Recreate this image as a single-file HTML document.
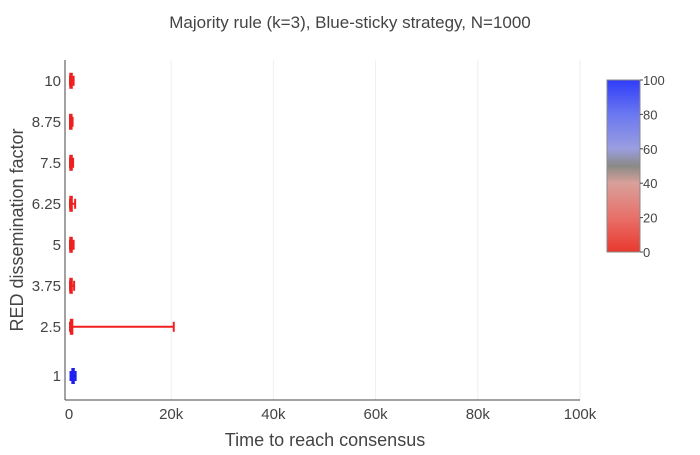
<!DOCTYPE html>
<html><head><meta charset="utf-8"><style>
body{margin:0;background:#fff;font-family:"Liberation Sans",sans-serif}
text{font-family:"Liberation Sans",sans-serif;fill:#444}
</style></head><body>
<svg width="700" height="450">
<text x="350" y="28" text-anchor="middle" font-size="17">Majority rule (k=3), Blue-sticky strategy, N=1000</text>
<g id="grid"></g><g id="marks"></g><g id="axes"></g>
<defs><linearGradient id="cb" x1="0" y1="1" x2="0" y2="0">
<stop offset="0" stop-color="#e8392e"/><stop offset="0.2" stop-color="#e8706a"/><stop offset="0.4" stop-color="#d9a09a"/><stop offset="0.5" stop-color="#8a8a86"/><stop offset="0.6" stop-color="#9a9ee0"/><stop offset="0.8" stop-color="#6b78f0"/><stop offset="1" stop-color="#2f3cf8"/></linearGradient></defs>
<rect x="607" y="80" width="33" height="172" fill="url(#cb)" stroke="#888" stroke-width="1"/>
<g id="cbt"></g>
<text x="325" y="446" text-anchor="middle" font-size="18">Time to reach consensus</text>
<text transform="translate(23,230) rotate(-90)" text-anchor="middle" font-size="18">RED dissemination factor</text>
</svg>
<script>
const cats=[1,2.5,3.75,5,6.25,7.5,8.75,10];
const centers=[800,500,400,400,400,400,350,400];
const lows=[300,200,200,200,200,200,200,200];
const highs=[1300,20500,1000,900,1200,800,700,900];
const colors=["#1f1ff0","#f01f1f","#f01f1f","#f01f1f","#f01f1f","#f01f1f","#f01f1f","#f01f1f"];
const xTicks=[0,20000,40000,60000,80000,100000];
const xLabels=["0","20k","40k","60k","80k","100k"];
const cbTicks=[0,20,40,60,80,100];
const NS="http://www.w3.org/2000/svg";
const X=v=>69+v*(580-69)/100000;
const Y=v=>376-(v-1)*32.8;
function mk(p,t,a){const e=document.createElementNS(NS,t);for(const k in a)e.setAttribute(k,a[k]);document.getElementById(p).appendChild(e);return e;}
xTicks.forEach((t,i)=>{
 if(i>0){const g=mk('grid','line',{x1:X(t),x2:X(t),y1:60,y2:400,stroke:'#eee'});
 
 }
 const l=mk('axes','text',{x:X(t),y:419,'text-anchor':'middle','font-size':15});l.textContent=xLabels[i];
 
 
});
cats.forEach((c,i)=>{
 const l=mk('axes','text',{x:61,y:Y(c)+5,'text-anchor':'end','font-size':15});l.textContent=String(c);
 
 
 const y=Y(c),col=colors[i];
 const g=mk('marks','g',{});
 
 
 const add=(a)=>{const e=document.createElementNS(NS,'line');for(const k in a)e.setAttribute(k,a[k]);e.setAttribute('stroke',col);g.appendChild(e);};
 add({x1:X(lows[i]),x2:X(highs[i]),y1:y,y2:y,'stroke-width':2});
 add({x1:X(lows[i]),x2:X(lows[i]),y1:y-5,y2:y+5,'stroke-width':2});
 add({x1:X(highs[i]),x2:X(highs[i]),y1:y-5,y2:y+5,'stroke-width':2});
 add({x1:X(centers[i]),x2:X(centers[i]),y1:y-8,y2:y+8,'stroke-width':3.5});
});
const ax=mk('axes','line',{x1:65,x2:65,y1:60,y2:400,stroke:'#444'});


const bx=mk('axes','line',{x1:65,x2:580,y1:400,y2:400,stroke:'#444'});


cbTicks.forEach(t=>{
 const y=252-t*1.72;
 mk('cbt','line',{x1:640,x2:643,y1:y,y2:y,stroke:'#444'});
 const l=mk('cbt','text',{x:643,y:y+5,'font-size':13});l.textContent=t;
 
 
});
</script>
</body></html>
